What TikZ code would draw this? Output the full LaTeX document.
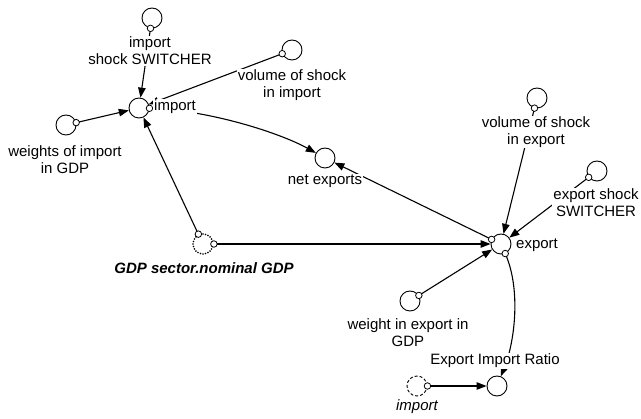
\documentclass[tikz,border=0pt]{standalone}
\usepackage{fontspec}
\setmainfont{Liberation Sans}
\usetikzlibrary{arrows.meta}
\begin{document}
\begin{tikzpicture}[x=1pt,y=-1pt,
  var/.style={circle, draw, fill=white, minimum size=20pt, inner sep=0pt, line width=0.9pt},
  ghost/.style={var, line width=1.8pt, line cap=round, dash pattern=on 0pt off 2.6pt},
  shadowvar/.style={var, dash pattern=on 3pt off 2pt},
  lbl/.style={font=\fontsize{15}{17}\selectfont, align=center, fill=white, inner sep=1pt},
  tailc/.style={circle, draw, solid, fill=white, minimum size=6.5pt, inner sep=0pt, line width=0.8pt},
  link/.style={line width=1.1pt, -{Triangle[length=10pt,width=7.5pt]}},
]
\useasboundingbox (0,0) rectangle (641,419);

% variables
\node[var] (isw)   at (152,18)  {};
\node[var] (imp)   at (139,108) {};
\node[var] (vsi)   at (292,50)  {};
\node[var] (wig)   at (66,125)  {};
\node[var] (netx)  at (325,158) {};
\node[var] (vse)   at (537,98)  {};
\node[var] (esw)   at (597,171) {};
\node[var] (exp)   at (501,244) {};
\node[ghost] (gdp) at (203,244) {};
\node[var] (wie)   at (410,301) {};
\node[var] (ratio) at (497,386) {};
\node[shadowvar] (simp) at (417,386) {};

% causal links
\draw[link] (isw) -- (imp) node[tailc, pos=0] {};
\draw[link] (vsi) -- (imp) node[tailc, pos=0] {};
\draw[link] (wig) -- (imp) node[tailc, pos=0] {};
\draw[link] (gdp) -- (imp) node[tailc, pos=0] {};
\draw[link] (imp) .. controls +(70,2) and +(-45,-25) .. (netx) node[tailc, pos=0] {};
\draw[link] (exp) -- (netx) node[tailc, pos=0] {};
\draw[link] (gdp) -- (exp) node[tailc, pos=0] {};
\draw[link] (vse) -- (exp) node[tailc, pos=0] {};
\draw[link] (esw) -- (exp) node[tailc, pos=0] {};
\draw[link] (wie) -- (exp) node[tailc, pos=0] {};
\draw[link] (exp) .. controls +(20,45) and +(18,-45) .. (ratio) node[tailc, pos=0] {};
\draw[link] (simp) -- (ratio) node[tailc, pos=0] {};

% names
\node[lbl] (iswL)   at (150,51)  {import\\shock SWITCHER};
\node[lbl] (vsiL)   at (292,85)  {volume of shock\\in import};
\node[lbl, anchor=west] (impL) at (153,107) {import};
\node[lbl] (wigL)   at (65,160)  {weights of import\\in GDP};
\node[lbl] (netxL)  at (325,181) {net exports};
\node[lbl] (vseL)   at (536,132) {volume of shock\\in export};
\node[lbl] (eswL)   at (596,203) {export shock\\SWITCHER};
\node[lbl, anchor=west] (expL) at (515,245) {export};
\node[lbl, font=\fontsize{15}{17}\selectfont\bfseries\itshape] (gdpL) at (204,268) {GDP sector.nominal GDP};
\node[lbl] (wieL)   at (408,333) {weight in export in\\GDP};
\node[lbl] (ratioL) at (495,361) {Export Import Ratio};
\node[lbl, font=\fontsize{15}{17}\selectfont\itshape] (simpL) at (417,407) {import};
\end{tikzpicture}
\end{document}
